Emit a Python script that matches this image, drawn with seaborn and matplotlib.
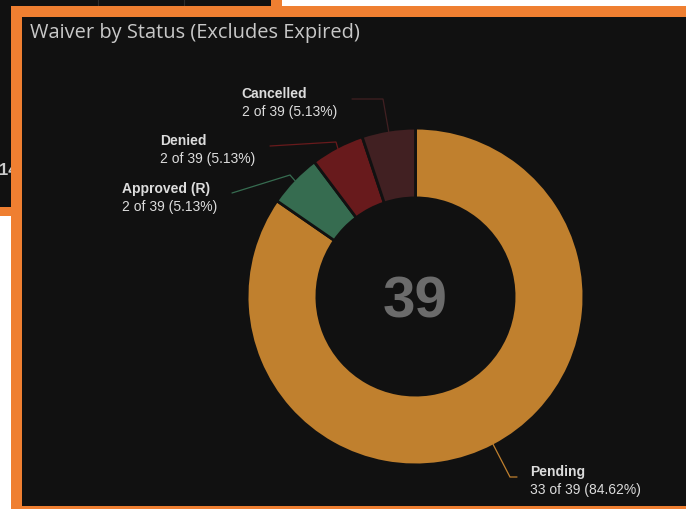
import numpy as np
import matplotlib
matplotlib.use("Agg")
import matplotlib.pyplot as plt
from matplotlib.patches import Rectangle
import seaborn as sns

sns.set_theme(style="dark")
plt.rcParams['font.family'] = ['Liberation Sans', 'DejaVu Sans']

# Data
statuses = ["Pending", "Approved (R)", "Denied", "Cancelled"]
counts = [33, 2, 2, 2]
title = "Waiver by Status (Excludes Expired)"

# Const
bg = "#111111"
border = "#EF7F31"
palette = sns.color_palette(["#C0802E", "#366C50", "#681A1C", "#412022"])
text_color = "#DCDCDC"

W, H = 686, 510
def Y(py):
    return H - py

fig = plt.figure(figsize=(W / 100, H / 100), dpi=100, facecolor="white")
ax = fig.add_axes([0, 0, 1, 1])
ax.patch.set_visible(False)

# neighbouring tile (behind) and the selected panel
ax.add_patch(Rectangle((0, Y(217)), 282, 217, color=border, zorder=0.1, lw=0))
ax.add_patch(Rectangle((0, Y(208)), 271, 208, color=bg, zorder=0.2, lw=0))
for gx in [98, 184]:
    ax.plot([gx, gx], [Y(0), Y(8)], color="#2c2c2c", lw=0.8, zorder=0.25)
ax.text(-1, Y(175), "14", color="#cccccc", fontsize=12, fontweight="bold",
        ha="left", va="baseline", zorder=0.3)
ax.add_patch(Rectangle((11, Y(510)), W - 11, 503, color=border, zorder=0.4, lw=0))
ax.add_patch(Rectangle((22, Y(507)), W - 22, 489, color=bg, zorder=0.5, lw=0))

ax.text(30, Y(38), title, color="#C8C8C8", fontsize=14.4, family=["Open Sans"],
        ha="left", va="baseline", zorder=3)

# Donut
cx, cy = 415.5, Y(297.5)
R, r = 168.4, 98.6
wedges, _ = ax.pie(counts, colors=palette, startangle=90, counterclock=False,
                   center=(cx, cy), radius=R, frame=True,
                   wedgeprops=dict(width=R - r, edgecolor=bg, linewidth=2))
total = sum(counts)
ax.text(cx, Y(318), str(total), color="#6B6B6B", fontsize=42, fontweight="bold",
        ha="center", va="baseline", zorder=3)

# label layout: text left x, first baseline, leader path (elbow, end) in pixels
label_pos = {
    "Pending": (530, 476, [(510, 478), (517, 478)]),
    "Approved (R)": (122.5, 193, [(290, 176), (232, 194)]),
    "Denied": (160, 145, [(336, 143), (270, 147)]),
    "Cancelled": (241.5, 98, [(383, 100), (352, 100)]),
}

for w, name, c in zip(wedges, statuses, counts):
    tx, tb, path = label_pos[name]
    ang = np.deg2rad((w.theta1 + w.theta2) / 2)
    x0 = cx + (R - 1.5) * np.cos(ang)
    y0 = cy + (R - 1.5) * np.sin(ang)
    xs = [x0] + [p[0] for p in path]
    ys = [y0] + [Y(p[1]) for p in path]
    ax.plot(xs, ys, color=w.get_facecolor(), lw=0.9, zorder=2,
            solid_joinstyle="miter")
    ax.text(tx, Y(tb), name, color=text_color, fontsize=10, fontweight="bold",
            ha="left", va="baseline", zorder=3)
    ax.text(tx, Y(tb + 18), "{} of {} ({:.2f}%)".format(c, total, c / total * 100),
            color=text_color, fontsize=10, ha="left", va="baseline", zorder=3)

ax.set_xlim(0, W)
ax.set_ylim(0, H)
ax.set_aspect("auto")
ax.axis("off")

fig.savefig("out.png", dpi=100, facecolor="white")
